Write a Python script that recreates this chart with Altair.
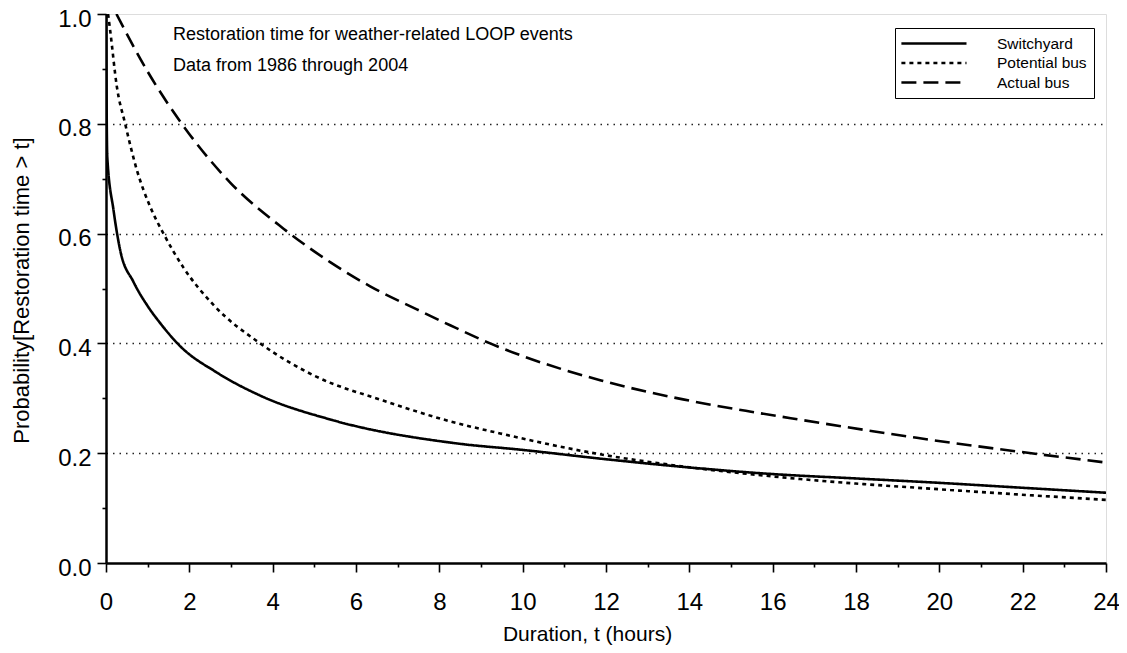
import altair as alt
import pandas as pd

# ---- data ----
series_names = ["Switchyard", "Potential bus", "Actual bus"]

switchyard_t = [0, 0.03, 0.18, 0.34, 0.66, 1.0, 1.3, 1.78, 2.66, 3.7, 5.45, 8.4, 10, 12, 14, 16, 18, 20, 22, 24]
switchyard_p = [1.0, 0.74, 0.643, 0.57, 0.512, 0.468, 0.437, 0.395, 0.347, 0.305, 0.26, 0.218, 0.206, 0.189, 0.174, 0.162, 0.154, 0.146, 0.137, 0.128]

potential_t = [0.05, 0.1, 0.26, 0.46, 0.74, 1.06, 1.38, 1.86, 2.58, 3.7, 5.06, 6.65, 8.26, 9.46, 11.86, 14.26, 16.66, 20.26, 24]
potential_p = [1.0, 0.97, 0.868, 0.8, 0.716, 0.649, 0.6, 0.538, 0.47, 0.4, 0.339, 0.296, 0.258, 0.236, 0.198, 0.172, 0.153, 0.133, 0.115]

actual_t = [0.25, 1.0, 1.82, 2.98, 4.26, 5.38, 6.34, 7.46, 8.26, 9.22, 10, 11.86, 13.85, 15.45, 16.66, 19.46, 24]
actual_p = [1.0, 0.895, 0.8, 0.693, 0.609, 0.548, 0.504, 0.462, 0.433, 0.40, 0.377, 0.333, 0.298, 0.276, 0.261, 0.228, 0.183]

x_ticks = list(range(0, 25))
y_ticks = [round(i * 0.1, 1) for i in range(0, 11)]

note_lines = ["Restoration time for weather-related LOOP events", "Data from 1986 through 2004"]
note_rows = [0, 1]

rows = []
for name, ts, ps in zip(series_names, [switchyard_t, potential_t, actual_t],
                        [switchyard_p, potential_p, actual_p]):
    for i, (t, p) in enumerate(zip(ts, ps)):
        rows.append({"series": name, "t": t, "p": p, "order": i})
df = pd.DataFrame(rows)

FONT = "Liberation Sans"

x_axis = alt.Axis(
    values=x_ticks,
    labelExpr="datum.value % 2 == 0 ? datum.label : ''",
    tickSize={"condition": {"test": "datum.value % 2 == 1", "value": 4}, "value": 9},
    tickColor="black", tickWidth=1.6,
    domainColor="black", domainWidth=2.5,
    grid=False,
    labelFont=FONT, labelFontSize=24, labelColor="black", labelPadding=18,
    labelBaseline="top", labelFlush=False,
    title="Duration, t (hours)", titleFont=FONT, titleFontSize=21,
    titleFontWeight="normal", titleColor="black",
    titleX=481, titleY=71, titleBaseline="middle", titleAlign="center",
)

y_axis = alt.Axis(
    values=y_ticks,
    labelExpr="round(datum.value*10) % 2 == 0 ? format(datum.value, '.1f') : ''",
    tickSize={"condition": {"test": "round(datum.value*10) % 2 == 1", "value": 4}, "value": 9},
    tickColor="black", tickWidth=1.6,
    domainColor="black", domainWidth=2.5,
    grid=True, gridColor="#222222", gridWidth=1.3, gridDash=[1.5, 5],
    gridOpacity={"condition": {"test": "round(datum.value*10) % 2 == 0 && datum.value > 0.05 && datum.value < 0.95", "value": 1}, "value": 0},
    labelFont=FONT, labelFontSize=24, labelColor="black", labelPadding=6,
    labelOffset=5, labelFlush=False,
    title="Probability[Restoration time > t]", titleFont=FONT, titleFontSize=22,
    titleFontWeight="normal", titleColor="black",
    titleX=-85, titleY=276, titleBaseline="middle", titleAlign="center", titleAngle=270,
)

lines = alt.Chart(df).mark_line(color="black", strokeWidth=2.6, clip=True,
                                interpolate="monotone").encode(
    x=alt.X("t:Q", scale=alt.Scale(domain=[0, 24], nice=False, zero=False), axis=x_axis),
    y=alt.Y("p:Q", scale=alt.Scale(domain=[0, 1], nice=False), axis=y_axis),
    strokeDash=alt.StrokeDash(
        "series:N",
        scale=alt.Scale(domain=series_names, range=[[1, 0], [4, 4], [15, 7]]),
        legend=alt.Legend(
            title=None, orient="none", legendX=789, legendY=14,
            direction="vertical",
            strokeColor="black", fillColor="white", padding=7,
            symbolType="M-1.3,0H8", symbolSize=196, symbolStrokeWidth=2.4,
            symbolStrokeColor="black", symbolFillColor="transparent",
            labelFont=FONT, labelFontSize=15.5, labelColor="black",
            labelOffset=78, rowPadding=2.5, labelBaseline="middle",
        ),
    ),
    order="order:Q",
)

notes = pd.DataFrame({"text": note_lines, "row": note_rows})
note_marks = alt.Chart(notes).mark_text(
    align="left", baseline="alphabetic", font=FONT, fontSize=18, color="black"
).encode(
    x=alt.value(67),
    y=alt.Y("row:Q", scale=alt.Scale(domain=[0, 1], range=[26, 57]), axis=None),
    text="text:N",
)

chart = alt.layer(lines, note_marks).resolve_scale(y="independent").properties(
    width=1000, height=549,
    autosize=alt.AutoSizeParams(type="none"),
    padding={"left": 98, "top": 6, "right": 13, "bottom": 82},
).configure_view(
    stroke="black", strokeWidth=2.5
).configure(background="white")

chart.save("out.html", embed_options={"renderer": "svg", "actions": False})
